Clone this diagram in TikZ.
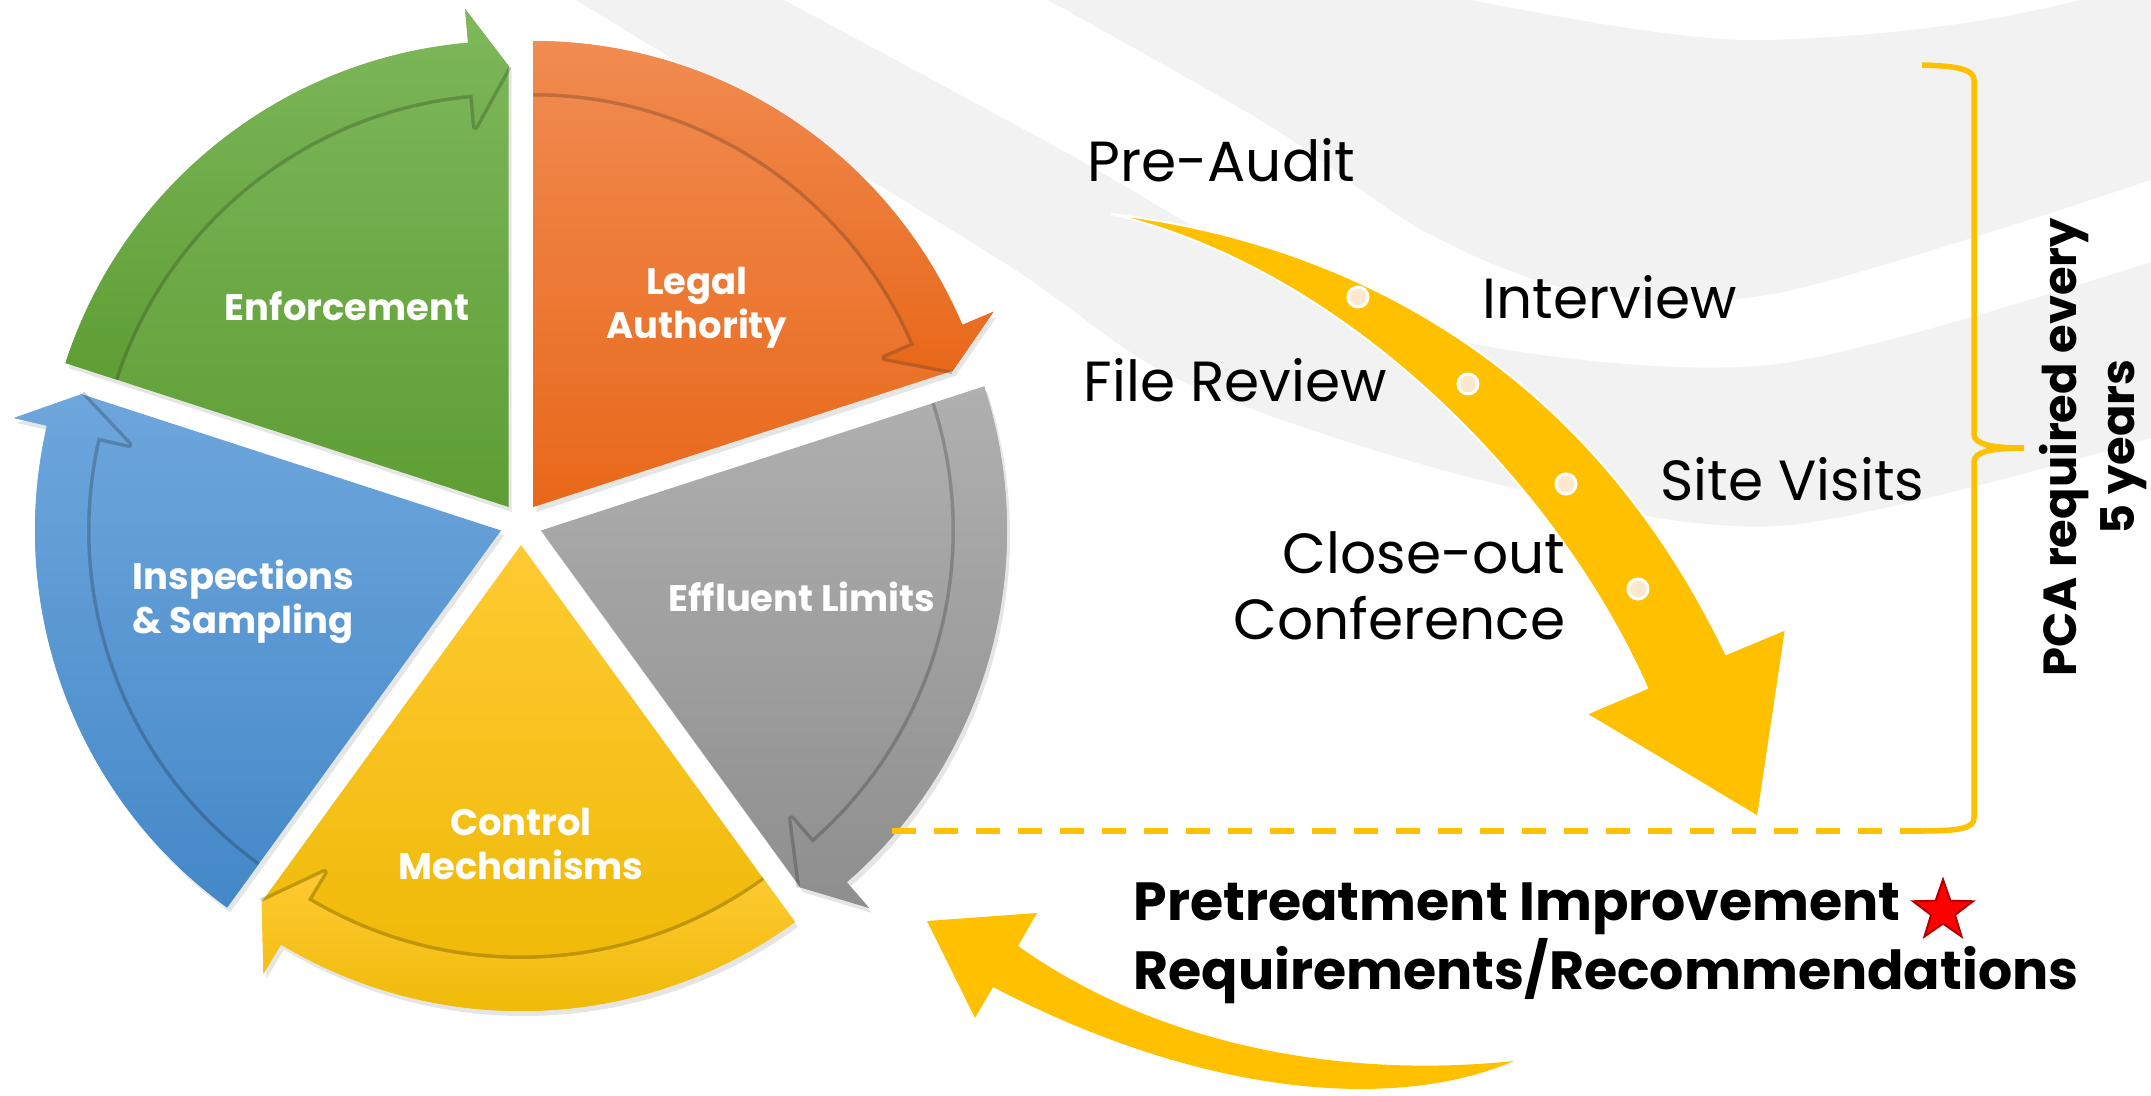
\documentclass[tikz,border=0pt]{standalone}
\usepackage{fontspec}
\setmainfont{Poppins}
\usetikzlibrary{shapes.geometric}

\definecolor{grnA}{RGB}{126,184,92}
\definecolor{grnB}{RGB}{94,158,52}
\definecolor{orgA}{RGB}{241,140,82}
\definecolor{orgB}{RGB}{232,104,26}
\definecolor{gryA}{RGB}{176,176,176}
\definecolor{gryB}{RGB}{142,142,142}
\definecolor{ylwA}{RGB}{255,202,50}
\definecolor{ylwB}{RGB}{236,183,0}
\definecolor{bluA}{RGB}{110,166,220}
\definecolor{bluB}{RGB}{68,136,200}
\definecolor{bgswoosh}{RGB}{242,242,242}
\definecolor{gold}{RGB}{255,192,0}
\definecolor{dotfill}{RGB}{253,231,207}

\begin{document}
\begin{tikzpicture}[x=0.1mm, y=-0.1mm,
    piecelabel/.style={text=white, font=\fontsize{10.5}{12.6}\selectfont\bfseries, align=center, inner sep=0pt},
    steplabel/.style={font=\fontsize{16.1}{18.8}\selectfont, inner sep=0pt},
    edgeshadow/.style={draw=black, opacity=.2, line width=0.7mm, line join=round},
    stepdot/.style={circle, fill=dotfill, draw=white, line width=0.3mm, minimum size=2mm, inner sep=0pt},
    cutline/.style={draw=gold, line width=0.6mm, dash pattern=on 2.4mm off 1.8mm},
    pcabrace/.style={draw=gold, line width=0.55mm}]
  \fill[white] (0,0) rectangle (2151,1096);
  \useasboundingbox (0,0) rectangle (2151,1096);

  \fill[bgswoosh] (784,0) -- (576,0) -- plot[smooth] coordinates {(576,0) (1000,260) (1180,380) (1473,478) (1778,526) (2151,438)}
    -- (2151,262) -- plot[smooth] coordinates {(2151,262) (1778,364) (1473,344) (1270,268) (1067,153) (784,0)} -- cycle;
  \fill[bgswoosh] (1048,0) -- (1470,0) .. controls (1600,25) and (1700,42) .. (1767,40) .. controls (1900,36) and (2000,20) .. (2080,0)
    -- (2151,0) -- (2151,180) -- plot[smooth] coordinates {(2151,180) (1778,293) (1575,290) (1422,230) (1270,126) (1048,0)} -- cycle;

  \begin{scope}[shift={(521,524)}]
    \foreach \s/\ca/\cb in {-162/grnA/grnB, -90/orgA/orgB, -18/gryA/gryB, 54/ylwA/ylwB, 126/bluA/bluB}{
      \pgfmathsetmacro\e{\s+72}
      \pgfmathsetmacro\b{\s+67}
      \begin{scope}[shift={(\s+36:21)}]
        \fill[black, opacity=.1, shift={(3,5)}] (0,0) -- (\s:466) arc[start angle=\s, end angle=\b, radius=466]
          -- (\b:500) -- (\e:441) -- cycle;
        \shade[top color=\ca, bottom color=\cb] (0,0) -- (\s:466) arc[start angle=\s, end angle=\b, radius=466]
          -- (\b:500) -- (\e:441) -- cycle;
        \draw[edgeshadow] (\s:414) arc[start angle=\s, end angle=\b, radius=414] -- (\b:382) -- (\e:441);
        \shade[top color=\ca, bottom color=\cb] (\s:466) arc[start angle=\s, end angle=\b, radius=466]
          -- (\b:500) -- (\e:441) -- (\b:382) -- (\b:414) arc[start angle=\b, end angle=\s, radius=414] -- cycle;
      \end{scope}
    }
  \end{scope}

  \node[piecelabel] (enf) at (347,306) {Enforcement};
  \node[piecelabel] (leg) at (697,308) {Legal\\Authority};
  \node[piecelabel] (eff) at (802,597) {Effluent Limits};
  \node[piecelabel, align=left, anchor=west] (ins) at (132,602) {Inspections\\\& Sampling};
  \node[piecelabel] (ctl) at (521,844) {Control\\Mechanisms};

  \fill[gold, draw=white, line width=0.2mm] (1111,214) .. controls (1330,240) and (1580,350) .. (1726,654)
    -- (1786,629) -- (1758,817) -- (1586,714) -- (1647,688) .. controls (1560,490) and (1350,270) .. cycle;
  \foreach \p [count=\i] in {(1358,297), (1468,384), (1566,484), (1638,589)}
    \node[stepdot] (dot\i) at \p {};

  \fill[gold] (927,921) -- (1037,913) -- (1018,946) .. controls (1150,1040) and (1330,1080) .. (1514,1061)
    .. controls (1400,1110) and (1210,1100) .. (993,987) -- (975,1018) -- cycle;

  \node[steplabel, anchor=base west] (pre) at (1087,182) {Pre-Audit};
  \node[steplabel, anchor=base west] (itv) at (1482,319) {Interview};
  \node[steplabel, anchor=base west] (fil) at (1083,402) {File Review};
  \node[steplabel, anchor=base west] (sit) at (1660,500) {Site Visits};
  \node[steplabel, align=right, anchor=north east] (clo) at (1566,531) {Close-out\\Conference};

  \coordinate (cutL) at (892,831);
  \coordinate (cutR) at (1922,831);
  \coordinate (braceT) at (1922,65);
  \coordinate (braceM) at (2024,448);
  \draw[cutline] (cutL) -- (cutR);
  \draw[pcabrace] (cutR) .. controls (1960,831) and (1974,828) .. (1974,818) -- (1974,462)
    .. controls (1974,452) and (1990,448) .. (braceM) .. controls (1990,448) and (1974,444) .. (1974,434)
    -- (1974,80) .. controls (1974,70) and (1960,66) .. (braceT);

  \node[font=\fontsize{13.2}{16.5}\selectfont\bfseries, rotate=90, align=center, inner sep=0pt] (pca) at (2093,447)
    {PCA required every\\5 years};
  \node[font=\fontsize{15.3}{19.6}\selectfont\bfseries, align=left, anchor=north west, inner sep=0pt] (ptr) at (1133,882)
    {Pretreatment Improvement\\Requirements/Recommendations};
  \node[star, star points=5, star point ratio=2.5, fill=red, draw=red!70!black, line width=0.2mm,
    minimum size=6.3mm, inner sep=0pt] (star) at (1943,911) {};
\end{tikzpicture}
\end{document}
